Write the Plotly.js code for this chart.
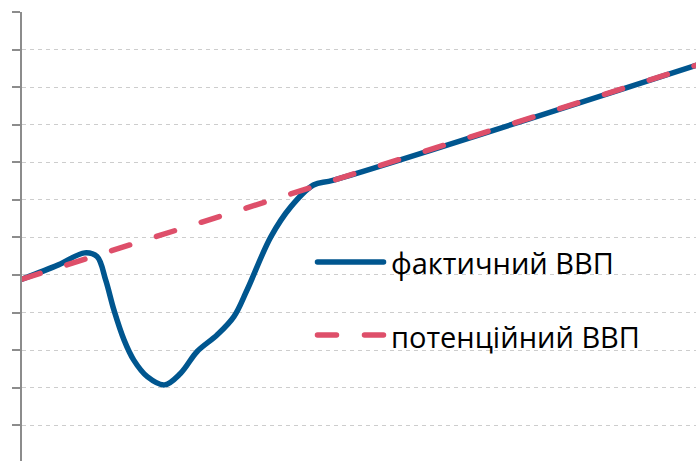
<!DOCTYPE html>
<html>
<head>
<meta charset="utf-8">
<script src="https://cdn.plot.ly/plotly-3.0.1.min.js"></script>
<style>
html,body{margin:0;padding:0;background:#fff;}
#chart{width:696px;height:461px;}
.js-line{stroke-linecap:round;}
.shapelayer path{stroke-linecap:round;}
</style>
</head>
<body>
<div id="chart"></div>
<script>
// time axis (arbitrary units) and GDP levels
var actualX = [0, 0.97, 1.67, 2.00, 2.23, 2.45, 2.72, 2.98, 3.34, 3.80, 4.23, 4.67, 5.20, 5.65, 6.00, 6.63, 7.16, 7.77, 8.31, 18];
var actualY = [4.89, 5.27, 5.59, 5.49, 4.87, 4.07, 3.27, 2.73, 2.29, 2.07, 2.38, 2.96, 3.40, 3.89, 4.60, 6.01, 6.81, 7.40, 7.53, 10.60];
var potentialX = [0, 18];
var potentialY = [4.89, 10.60];
var seriesNames = ["фактичний ВВП", "потенційний ВВП"];
var blue = "#00568f", red = "#de4f6a";

var traces = [
  {x: actualX, y: actualY, mode: "lines", name: seriesNames[0],
   line: {color: blue, width: 5.5, shape: "spline", smoothing: 1}, hoverinfo: "skip", showlegend: false},
  {x: potentialX, y: potentialY, mode: "lines", name: seriesNames[1],
   line: {color: red, width: 5.5, dash: "19px,28px"}, hoverinfo: "skip", showlegend: false}
];

var font = {family: "Open Sans, Noto Sans, sans-serif", size: 29, color: "#000"};
var layout = {
  width: 696, height: 461,
  margin: {l: 22, r: 0, t: 12, b: 0, pad: 0},
  paper_bgcolor: "#fff", plot_bgcolor: "#fff",
  showlegend: false,
  xaxis: {range: [0, 17.97], visible: false, fixedrange: true},
  yaxis: {range: [0.04, 12.013], tick0: 0, dtick: 1, showticklabels: false,
          ticks: "outside", ticklen: 8, tickwidth: 2, tickcolor: "#8c8c8c",
          showline: true, linecolor: "#8c8c8c", linewidth: 2,
          showgrid: true, gridcolor: "#cdcdcd", gridwidth: 1, griddash: "4px,4px",
          zeroline: false, fixedrange: true},
  shapes: [
    {type: "line", xref: "paper", yref: "paper", x0: 0.4384, x1: 0.5364, y0: 0.4432, y1: 0.4432,
     line: {color: blue, width: 5.5}},
    {type: "line", xref: "paper", yref: "paper", x0: 0.4384, x1: 0.5364, y0: 0.2806, y1: 0.2806,
     line: {color: red, width: 5.5, dash: "19px,28px"}}
  ],
  annotations: [
    {xref: "paper", yref: "paper", x: 0.5445, y: 0.443, xanchor: "left", yanchor: "middle",
     text: seriesNames[0], showarrow: false, font: font},
    {xref: "paper", yref: "paper", x: 0.5445, y: 0.278, xanchor: "left", yanchor: "middle",
     text: seriesNames[1], showarrow: false, font: font}
  ]
};
Plotly.newPlot("chart", traces, layout, {staticPlot: true, displayModeBar: false});
</script>
</body>
</html>
